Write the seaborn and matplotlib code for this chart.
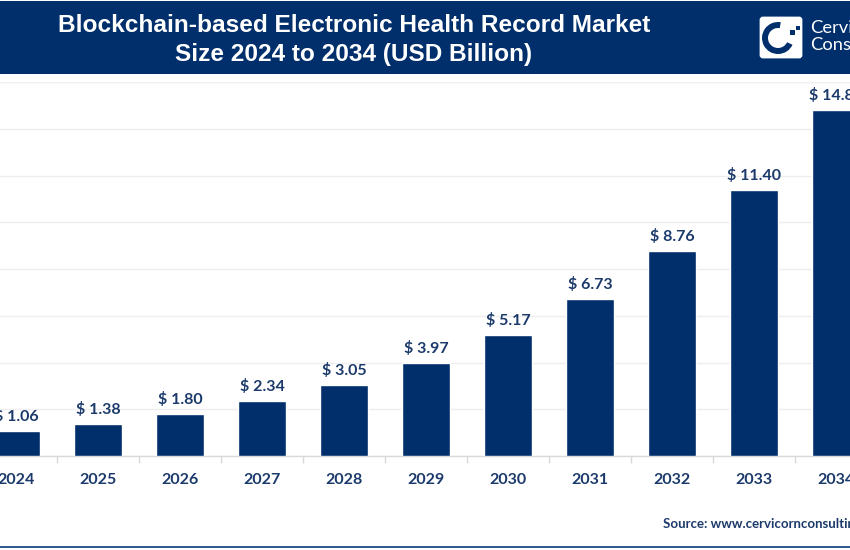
import matplotlib
matplotlib.use("Agg")
import matplotlib.pyplot as plt
from matplotlib.patches import FancyBboxPatch, Rectangle, Wedge
import pandas as pd
import seaborn as sns

years = ["2024", "2025", "2026", "2027", "2028", "2029", "2030", "2031", "2032", "2033", "2034"]
market_size = [1.06, 1.38, 1.80, 2.34, 3.05, 3.97, 5.17, 6.73, 8.76, 11.40, 14.82]
y_ticks = [0, 2, 4, 6, 8, 10, 12, 14, 16]

navy = "#002f6c"
label_color = "#1b3a6b"

sns.set_theme(style="white")
plt.rcParams["font.family"] = ["Lato", "DejaVu Sans"]

df = pd.DataFrame({"year": years, "size": market_size})

fig = plt.figure(figsize=(8.5, 5.5), dpi=100)
ax = fig.add_axes([0, 94 / 550, 1, 374 / 550])

sns.barplot(data=df, x="year", y="size", color=navy, width=0.595, saturation=1, ax=ax, zorder=3)

# bar values, the last one runs off the picture like in the original
ax.bar_label(ax.containers[0], labels=[f"$ {v:.2f}" for v in market_size], padding=5,
             fontsize=11.5, fontweight="bold", color=label_color)

ax.set_yticks(y_ticks)
ax.set_xlabel("")
ax.set_ylabel("")
ax.grid(axis="y", color="#eeeeee", linewidth=1)
ax.set_axisbelow(True)
ax.tick_params(axis="y", left=False, labelleft=False)
ax.tick_params(axis="x", bottom=False, pad=6, labelsize=11.5, labelcolor=label_color)
for lab in ax.get_xticklabels():
    lab.set_fontweight("bold")

# separators between the categories
ax.set_xticks([i + 0.5 for i in range(len(years))], minor=True)
ax.tick_params(axis="x", which="minor", bottom=True, length=5, width=1, color="#d9d9d9")

# limits go after the ticks, set_xticks widens them otherwise
ax.set_xlim(-16 / 82, 834 / 82)
ax.set_ylim(0, 16)

for side in ["top", "left", "right"]:
    ax.spines[side].set_visible(False)
ax.spines["bottom"].set_color("#d9d9d9")
ax.spines["bottom"].set_linewidth(1)

# header, logo and footer in pixel coords
over = fig.add_axes([0, 0, 1, 1])
over.set_xlim(0, 850)
over.set_ylim(550, 0)
over.axis("off")
over.patch.set_alpha(0)

over.add_patch(Rectangle((0, 1), 850, 73, color=navy, lw=0))
over.add_patch(Rectangle((0, 546), 850, 2, color="#2f5a8f", lw=0))

over.text(354, 25, "Blockchain-based Electronic Health Record Market", ha="center", va="center",
          color="white", fontsize=17.6, fontweight="bold", family="Liberation Sans")
over.text(354, 55, "Size 2024 to 2034 (USD Billion)", ha="center", va="center",
          color="white", fontsize=17.6, fontweight="bold", family="Liberation Sans")

over.add_patch(FancyBboxPatch((761, 18), 40, 39, boxstyle="round,pad=0,rounding_size=2",
                              fc="white", ec="white", lw=2))
over.add_patch(Wedge((778, 38), 16, 25, 280, width=6, fc=navy, lw=0))
over.add_patch(Rectangle((790, 30), 5, 5, fc=navy, lw=0))
over.add_patch(Rectangle((796, 26), 4, 4, fc=navy, lw=0))
over.text(810, 28, "Cervicorn", ha="left", va="center", color="white", fontsize=13.2)
over.text(810, 45, "Consulting", ha="left", va="center", color="white", fontsize=13.2)

over.text(663, 524, "Source: www.cervicornconsulting.com", ha="left", va="center",
          color=label_color, fontsize=9.5, fontweight="bold")

fig.savefig("out.png", dpi=100)
